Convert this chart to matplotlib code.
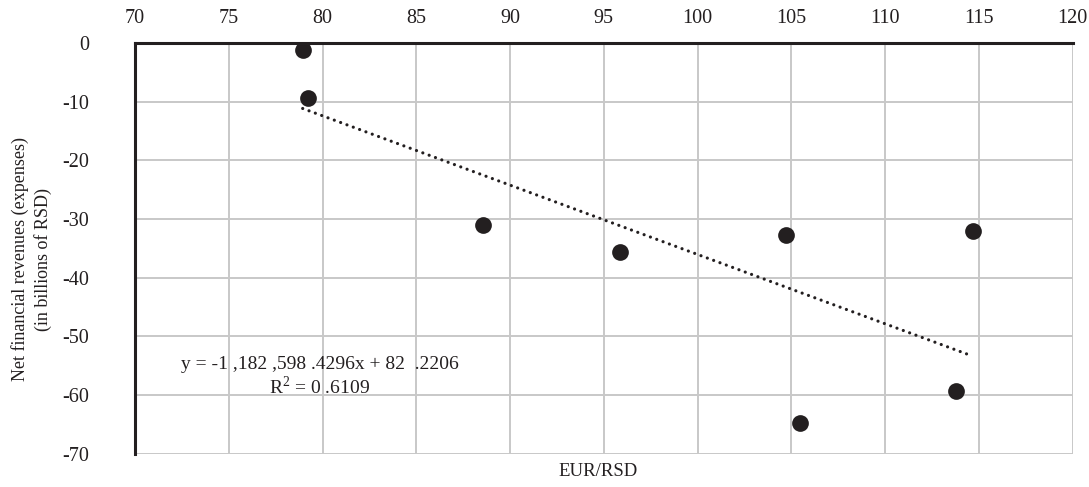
import numpy as np
import matplotlib.pyplot as plt

plt.rcParams['font.family'] = ['Liberation Serif', 'DejaVu Serif']
plt.rcParams['axes.unicode_minus'] = False
plt.rcParams['mathtext.fontset'] = 'custom'
plt.rcParams['mathtext.rm'] = 'Liberation Serif'

# EUR/RSD exchange rate vs. net financial result (bn RSD)
eur_rsd = [78.94, 79.24, 88.55, 95.85, 104.69, 105.45, 113.76, 114.67]
net_fin = [-1.3, -9.4, -31.0, -35.55, -32.8, -64.7, -59.3, -32.0]

x_ticks = [70, 75, 80, 85, 90, 95, 100, 105, 110, 115, 120]
y_ticks = [0, -10, -20, -30, -40, -50, -60, -70]

eq_text = 'y = -1 ,182 ,598 .4296x + 82  .2206\nR$^\\mathregular{2}$ = 0 .6109'

x = np.array(eur_rsd)
y = np.array(net_fin)

# linear trend
k, b = np.polyfit(x, y, 1)
xt = np.array([x.min(), x.max()])
yt = k * xt + b

fig = plt.figure(figsize=(10.89, 4.87), dpi=100)
ax = fig.add_axes([0.124, 0.068, 0.861, 0.844])

ax.scatter(x, y, s=145, color='#231f20', zorder=4, linewidths=0)
ax.plot(xt, yt, color='#231f20', linewidth=2.3, linestyle=(0, (0.01, 2.1)),
        dash_capstyle='round', zorder=3)

ax.set_xlim(70, 120)
ax.set_ylim(-70, 0)
ax.set_xticks(x_ticks)
ax.set_yticks(y_ticks)
ax.xaxis.tick_top()
ax.tick_params(axis='x', length=0, pad=11, labelsize=14.5, colors='#231f20')
ax.tick_params(axis='y', length=0, pad=33, labelsize=14.5, colors='#231f20')
ax.grid(True, color='#c8c8c8', linewidth=1.4)
ax.set_axisbelow(True)

for s in ['right', 'bottom']:
    ax.spines[s].set_visible(False)
for s in ['left', 'top']:
    ax.spines[s].set_linewidth(2.2)
    ax.spines[s].set_color('#231f20')
    ax.spines[s].set_zorder(5)

ax.text(79.86, -56.9, eq_text, ha='center', va='center', fontsize=14,
        color='#231f20', multialignment='center', linespacing=1.15)

fig.text(0.0185, 0.468, 'Net financial revenues (expenses)', rotation=90,
         ha='center', va='center', fontsize=13, color='#231f20')
fig.text(0.0395, 0.468, '(in billions of RSD)', rotation=90,
         ha='center', va='center', fontsize=13, color='#231f20')
fig.text(0.549, 0.031, 'EUR/RSD', ha='center', va='center', fontsize=13.5,
         color='#231f20')

plt.savefig('out.png', dpi=100)
